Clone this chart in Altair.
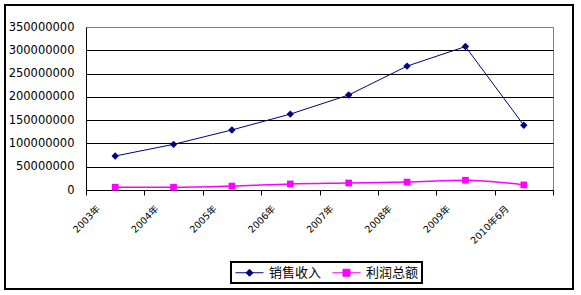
import altair as alt
import pandas as pd

years = ["2003年", "2004年", "2005年", "2006年", "2007年", "2008年", "2009年", "2010年6月"]
sales = [73000000, 98000000, 129000000, 163000000, 204000000, 266000000, 308000000, 139000000]
profit = [6000000, 6000000, 8500000, 13000000, 15000000, 17000000, 21000000, 11000000]
series_names = ["销售收入", "利润总额"]
series_colors = ["#000080", "#FF00FF"]
y_ticks = [0, 50000000, 100000000, 150000000, 200000000, 250000000, 300000000, 350000000]

df = pd.DataFrame({
    "year": years * 2,
    "series": [series_names[0]] * len(years) + [series_names[1]] * len(years),
    "value": sales + profit,
})

NUM_FONT = "DejaVu Sans, Noto Sans CJK SC"
CJK_FONT = "Noto Sans CJK SC"

x_enc = alt.X(
    "year:N", sort=years,
    scale=alt.Scale(paddingInner=0, paddingOuter=0),
    axis=alt.Axis(title=None, labelAngle=-45, tickBand="extent", ticks=True, tickSize=5,
                  tickColor="black", domainColor="black", grid=False,
                  labelFont=NUM_FONT, labelFontSize=9.5, labelColor="black",
                  labelPadding=12, labelOffset=-17, labelAlign="right", labelBaseline="middle"),
)
y_enc = alt.Y(
    "value:Q",
    scale=alt.Scale(domain=[0, 350000000], nice=False),
    axis=alt.Axis(title=None, values=y_ticks, format="d", ticks=False, labelPadding=12,
                  domainColor="black", labelFont=NUM_FONT, labelFontSize=11.5, labelColor="black",
                  grid=True,
                  gridColor=alt.condition("datum.value >= 350000000", alt.value("#808080"), alt.value("black")),
                  gridWidth=1, gridOpacity=1),
)

base = alt.Chart(df)

frame = alt.Chart(alt.Data(values=[{}])).mark_rect(
    fillOpacity=0, stroke="black", strokeWidth=2
).encode(x=alt.value(-81), x2=alt.value(487), y=alt.value(-22), y2=alt.value(262))

line_sales = base.transform_filter(alt.datum.series == series_names[0]).mark_line(
    color=series_colors[0], strokeWidth=1
).encode(x=x_enc, y=y_enc)

line_profit = base.transform_filter(alt.datum.series == series_names[1]).mark_line(
    color=series_colors[1], strokeWidth=1.5, interpolate="monotone"
).encode(x=x_enc, y=y_enc)

pts_sales = base.transform_filter(alt.datum.series == series_names[0]).mark_point(
    shape="diamond", filled=True, size=55, color=series_colors[0], opacity=1
).encode(x=x_enc, y=y_enc)

pts_profit = base.transform_filter(alt.datum.series == series_names[1]).mark_point(
    shape="square", filled=True, size=45, color=series_colors[1], opacity=1
).encode(x=x_enc, y=y_enc)

legend_paths = [
    "M-2,0L2,0M0,-0.5L0.5,0L0,0.5L-0.5,0Z",
    "M-2,0L2,0M-0.5,-0.5L0.5,-0.5L0.5,0.5L-0.5,0.5Z",
]
leg = alt.Legend(title=None, orient="none", legendX=145, legendY=235, direction="horizontal",
                 strokeColor="black", padding=3, labelFont=CJK_FONT, labelFontSize=13,
                 labelColor="black", symbolSize=196, symbolOffset=8, labelOffset=12,
                 columnPadding=8, symbolStrokeWidth=1)
legend_layer = base.transform_filter("false").mark_point(filled=True, opacity=1, size=196).encode(
    x=x_enc, y=y_enc,
    fill=alt.Fill("series:N", scale=alt.Scale(domain=series_names, range=series_colors), legend=leg),
    stroke=alt.Stroke("series:N", scale=alt.Scale(domain=series_names, range=series_colors), legend=leg),
    shape=alt.Shape("series:N", scale=alt.Scale(domain=series_names, range=legend_paths), legend=leg),
)

chart = alt.layer(frame, line_sales, line_profit, pts_sales, pts_profit, legend_layer).properties(
    width=467, height=163,
    autosize=alt.AutoSizeParams(type="none"),
    padding={"left": 86, "top": 27, "right": 28, "bottom": 105},
    background="white",
).configure_view(stroke="#808080", strokeWidth=1).configure_legend(strokeWidth=2)

chart.save("out.html", embed_options={"renderer": "svg", "actions": False})
